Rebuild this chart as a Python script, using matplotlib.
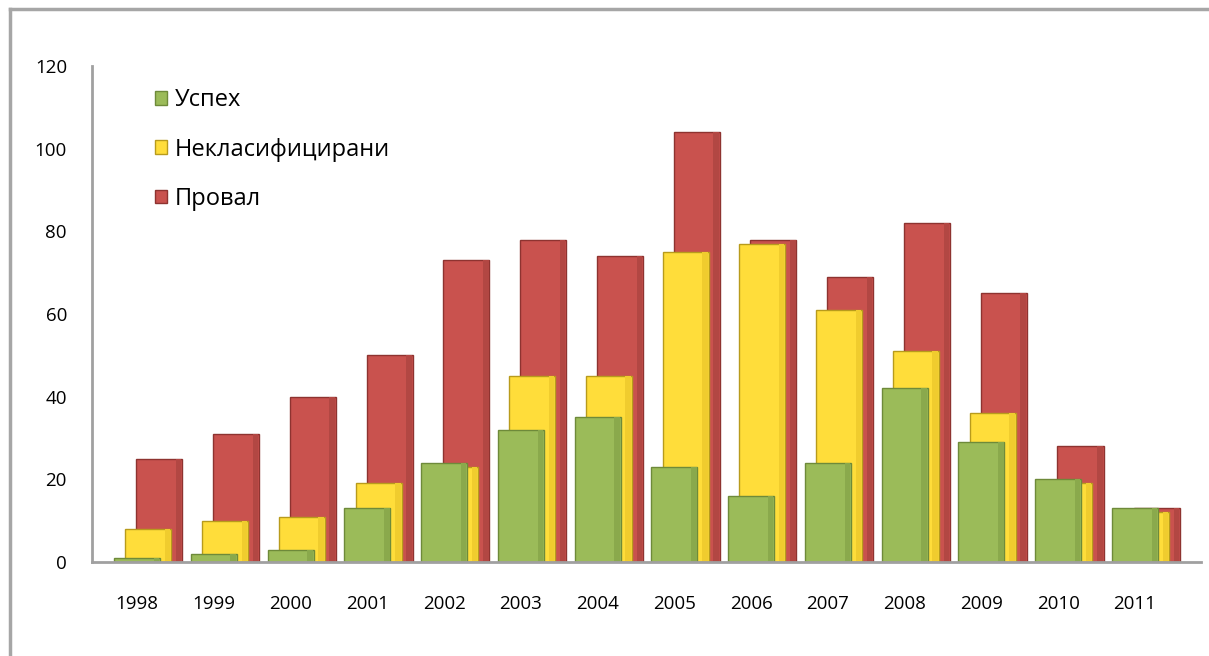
import matplotlib
matplotlib.use("Agg")
import matplotlib.pyplot as plt
import numpy as np
from matplotlib.lines import Line2D
from matplotlib.patches import Patch

years = ["1998", "1999", "2000", "2001", "2002", "2003", "2004",
         "2005", "2006", "2007", "2008", "2009", "2010", "2011"]
uspeh = [1, 2, 3, 13, 24, 32, 35, 23, 16, 24, 42, 29, 20, 13]
neklas = [8, 10, 11, 19, 23, 45, 45, 75, 77, 61, 51, 36, 19, 12]
proval = [25, 31, 40, 50, 73, 78, 74, 104, 78, 69, 82, 65, 28, 13]

plt.rcParams["font.family"] = ["Open Sans", "DejaVu Sans"]

GREEN = "#9BBB59"
YELLOW = "#FFDD3A"
RED = "#C9524E"
EDGE = {GREEN: "#6E8A3A", YELLOW: "#B89B1C", RED: "#8E3330"}
SHADE = {GREEN: "#8AA94C", YELLOW: "#F0CC2E", RED: "#B24743"}

fig = plt.figure(figsize=(12.09, 6.56), dpi=100)
ax = fig.add_axes([92 / 1209, 1 - 562 / 656, (1201 - 92) / 1209, (562 - 66) / 656])

x = np.arange(len(years))
w = 0.6
off = 0.145


def draw(pos, vals, color):
    ax.bar(pos, vals, width=w, color=color, edgecolor=EDGE[color], linewidth=1.0, zorder=2)
    # simple shading on the right side of each column
    ax.bar(pos + w / 2 - w * 0.14, vals, width=w * 0.12, align="edge",
           color=SHADE[color], linewidth=0, zorder=2)


draw(x + 2 * off, proval, RED)
draw(x + off, neklas, YELLOW)
draw(x, uspeh, GREEN)

ax.set_xlim(-0.588, 13.86)
ax.set_ylim(0, 120)
ax.set_yticks(range(0, 121, 20))
ax.set_xticks(x)
ax.set_xticklabels(years)
ax.tick_params(axis="both", length=0, labelsize=13.5, colors="black")
ax.tick_params(axis="x", pad=24)
ax.tick_params(axis="y", pad=18)
for s in ["top", "right"]:
    ax.spines[s].set_visible(False)
for s in ["left", "bottom"]:
    ax.spines[s].set_color("#A0A0A0")
    ax.spines[s].set_linewidth(2)

handles = [Patch(facecolor=GREEN, edgecolor=EDGE[GREEN], label="Успех"),
           Patch(facecolor=YELLOW, edgecolor=EDGE[YELLOW], label="Некласифицирани"),
           Patch(facecolor=RED, edgecolor=EDGE[RED], label="Провал")]
ax.legend(handles=handles, loc="upper left", bbox_to_anchor=(0.0568, 0.955),
          frameon=False, fontsize=17, handlelength=0.5, handleheight=0.5,
          handletextpad=0.35, labelspacing=1.07, borderpad=0, borderaxespad=0)

# chart area border (only top and left edges fall inside the image)
fig.add_artist(Line2D([10 / 1209, 1], [1 - 9 / 656, 1 - 9 / 656], color="#A6A6A6", lw=2.5))
fig.add_artist(Line2D([10 / 1209, 10 / 1209], [0, 1 - 9 / 656], color="#A6A6A6", lw=2.5))

fig.savefig("out.png", dpi=100)
